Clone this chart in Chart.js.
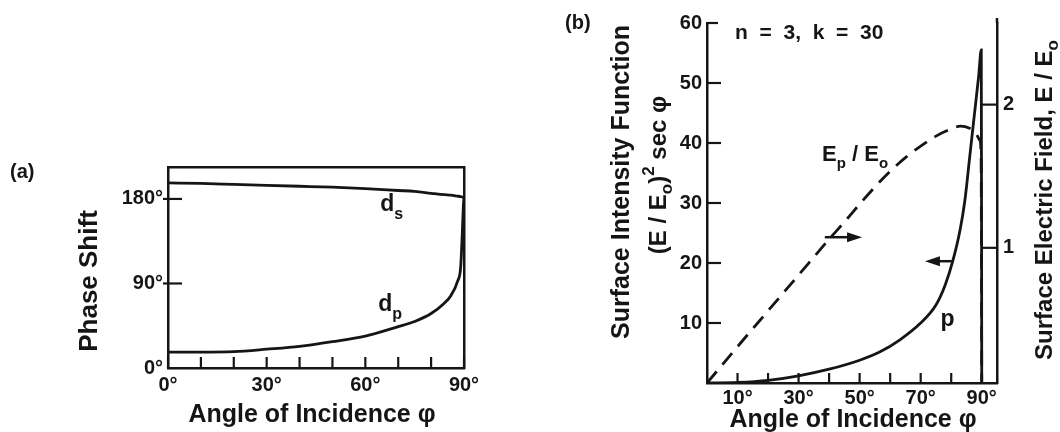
<!DOCTYPE html>
<html>
<head>
<meta charset="utf-8">
<script src="https://cdn.jsdelivr.net/npm/chart.js@4.4.1/dist/chart.umd.min.js"></script>
<style>
html, body { margin: 0; padding: 0; background: #fff; }
#wrap { position: relative; width: 1060px; height: 432px; overflow: hidden; }
canvas { position: absolute; left: 0; top: 0; }
</style>
</head>
<body>
<div id="wrap">
  <canvas id="chartA" width="1060" height="432"></canvas>
  <canvas id="chartB" width="1060" height="432"></canvas>
</div>
<script>
// (a) phase shift against angle of incidence
const phaseAngles = [0, 10, 20, 30, 40, 50, 60, 70, 75, 80, 84, 86, 88, 89, 89.5, 89.8, 90];
const deltaS = [197, 196.5, 195.5, 194.5, 193.5, 192.5, 191, 189, 188, 186, 184.5, 184, 183, 182.5, 182, 182, 182];
const deltaP = [17, 17, 17.5, 20, 23, 28, 34, 44, 49.5, 58, 69, 77, 92, 108, 145, 172, 182];
const phaseTicksX = [0, 10, 20, 30, 40, 50, 60, 70, 80, 90];
const phaseLabelsX = [0, 30, 60, 90];
const phaseTicksY = [0, 90, 180];

// (b) surface intensity (left axis) and surface field (right axis)
const intensityAngles = [0, 10, 20, 30, 40, 50, 56.7, 63.2, 69.8, 75, 78, 80.5, 82.9, 84.5, 86, 87.5, 89, 89.85, 90];
const intensityP = [0, 0.1, 0.45, 1.2, 2.3, 3.8, 5.2, 7.2, 9.9, 13, 16.3, 20.3, 25.5, 30.5, 37.4, 44.3, 51.2, 55.5, 0.3];
const fieldAngles = [0, 10, 20, 30, 40, 45, 50, 55, 60, 65, 70, 75, 80, 83, 86, 88, 89.4, 89.8, 90];
const fieldP = [0.056, 0.31, 0.56, 0.81, 1.06, 1.18, 1.305, 1.425, 1.535, 1.63, 1.71, 1.78, 1.83, 1.85, 1.835, 1.8, 1.75, 1.62, 0.056];
const angleTicksB = [0, 10, 20, 30, 40, 50, 60, 70, 80, 90];
const angleLabelsB = [10, 30, 50, 70, 90];
const intensityTicks = [10, 20, 30, 40, 50, 60];
const fieldTicks = [1, 2];

const INK = "#151515";
const FONT = "'Liberation Sans', Arial, Helvetica, sans-serif";

function toPoints(xs, ys) {
    return xs.map(function (x, i) { return { x: x, y: ys[i] }; });
}

function tickFont(size) {
    return { family: FONT, size: size, weight: "bold" };
}

// draws text made of parts (for sub/superscripts), optionally rotated
function drawRich(ctx, parts, x, y, align, angle) {
    ctx.save();
    ctx.translate(x, y);
    if (angle) ctx.rotate(angle);
    ctx.fillStyle = INK;
    ctx.textBaseline = "middle";
    ctx.textAlign = "left";
    let total = 0;
    parts.forEach(function (p) {
        ctx.font = "bold " + p.size + "px " + FONT;
        p.w = ctx.measureText(p.t).width;
        total += p.w;
    });
    let cx = 0;
    if (align === "center") cx = -total / 2;
    if (align === "right") cx = -total;
    parts.forEach(function (p) {
        ctx.font = "bold " + p.size + "px " + FONT;
        ctx.fillText(p.t, cx, p.dy || 0);
        cx += p.w;
    });
    ctx.restore();
}

function line(ctx, x1, y1, x2, y2, w) {
    ctx.beginPath();
    ctx.moveTo(x1, y1);
    ctx.lineTo(x2, y2);
    ctx.lineWidth = w || 2.5;
    ctx.strokeStyle = INK;
    ctx.stroke();
}

function arrow(ctx, x1, y1, x2, y2) {
    const dir = x2 > x1 ? 1 : -1;
    line(ctx, x1, y1, x2 - dir * 10, y2, 2.5);
    ctx.beginPath();
    ctx.moveTo(x2, y2);
    ctx.lineTo(x2 - dir * 15, y2 - 5);
    ctx.lineTo(x2 - dir * 15, y2 + 5);
    ctx.closePath();
    ctx.fillStyle = INK;
    ctx.fill();
}

const noGrid = { display: false, drawTicks: false };

const plainAxis = {
    ticks: { display: false },
    grid: noGrid,
    border: { display: true, color: INK, width: 2.5 }
};

// ---------- chart (a) ----------
const marksA = {
    id: "marksA",
    afterDraw: function (chart) {
        const ctx = chart.ctx;
        const xs = chart.scales.x;
        const ys = chart.scales.y;
        const area = chart.chartArea;
        phaseTicksX.forEach(function (v) {
            const px = xs.getPixelForValue(v);
            line(ctx, px, area.bottom, px, area.bottom - 11, 2.2);
        });
        phaseTicksY.forEach(function (v) {
            if (v === 0) return;
            const py = ys.getPixelForValue(v);
            line(ctx, area.left - 5, py, area.left + 14, py, 2.2);
        });

        drawRich(ctx, [{ t: "(a)", size: 20 }], 10, 172, "left");
        drawRich(ctx, [{ t: "Phase Shift", size: 26 }], 90, 281, "center", -Math.PI / 2);
        drawRich(ctx, [{ t: "Angle of Incidence \u03c6", size: 25 }], 312, 415, "center");

        drawRich(ctx, [{ t: "d", size: 23 }, { t: "s", size: 16, dy: 10 }],
            xs.getPixelForValue(64.5), ys.getPixelForValue(173.6), "left");
        drawRich(ctx, [{ t: "d", size: 23 }, { t: "p", size: 16, dy: 10 }],
            xs.getPixelForValue(63.9), ys.getPixelForValue(67), "left");
    }
};

new Chart(document.getElementById("chartA"), {
    type: "line",
    data: {
        datasets: [
            { label: "ds", data: toPoints(phaseAngles, deltaS), borderColor: INK, borderWidth: 2.8, pointRadius: 0, cubicInterpolationMode: "monotone", fill: false },
            { label: "dp", data: toPoints(phaseAngles, deltaP), borderColor: INK, borderWidth: 2.8, pointRadius: 0, cubicInterpolationMode: "monotone", fill: false }
        ]
    },
    options: {
        responsive: false,
        animation: false,
        devicePixelRatio: 1,
        layout: { padding: { left: 108, right: 596, top: 167, bottom: 0 } },
        plugins: { legend: { display: false }, tooltip: { enabled: false } },
        scales: {
            x: {
                type: "linear", position: "bottom", min: 0, max: 90,
                afterBuildTicks: function (s) { s.ticks = phaseTicksX.map(function (v) { return { value: v }; }); },
                afterFit: function (s) { s.height = 64; },
                ticks: {
                    autoSkip: false, maxRotation: 0, padding: 5, color: INK, font: tickFont(20),
                    callback: function (v) { return phaseLabelsX.includes(v) ? v + "\u00b0" : ""; }
                },
                grid: noGrid,
                border: { display: true, color: INK, width: 2.5 }
            },
            y: {
                type: "linear", position: "left", min: 0, max: 214,
                afterBuildTicks: function (s) { s.ticks = phaseTicksY.map(function (v) { return { value: v }; }); },
                afterFit: function (s) { s.width = 60; },
                ticks: {
                    padding: 5, color: INK, font: tickFont(20),
                    callback: function (v) { return v + "\u00b0"; }
                },
                grid: noGrid,
                border: { display: true, color: INK, width: 2.5 }
            },
            xTop: Object.assign({ type: "linear", position: "top", min: 0, max: 90, afterFit: function (s) { s.height = 0; } }, plainAxis),
            yRight: Object.assign({ type: "linear", position: "right", min: 0, max: 214, afterFit: function (s) { s.width = 0; } }, plainAxis)
        }
    },
    plugins: [marksA]
});

// ---------- chart (b) ----------
const marksB = {
    id: "marksB",
    afterDraw: function (chart) {
        const ctx = chart.ctx;
        const xs = chart.scales.x;
        const ys = chart.scales.y;
        const yr = chart.scales.y2;
        const area = chart.chartArea;
        angleTicksB.forEach(function (v) {
            if (v === 0) return;
            const px = xs.getPixelForValue(v);
            line(ctx, px, area.bottom, px, area.bottom - 10, 2.2);
        });
        intensityTicks.forEach(function (v) {
            const py = ys.getPixelForValue(v);
            line(ctx, area.left, py, area.left + (v === 60 ? 11 : 14), py, 2.2);
        });
        fieldTicks.forEach(function (v) {
            const py = yr.getPixelForValue(v);
            line(ctx, area.right, py, xs.getPixelForValue(90), py, 2.2);
        });
        line(ctx, area.right, area.top, area.right, area.top - 5, 2.5);

        drawRich(ctx, [{ t: "(b)", size: 20 }], 565, 23, "left");
        drawRich(ctx, [{ t: "Surface Intensity Function", size: 25 }], 622, 182, "center", -Math.PI / 2);
        drawRich(ctx, [
            { t: "(E / E", size: 24 }, { t: "o", size: 17, dy: 8 }, { t: ")", size: 24 },
            { t: "2", size: 17, dy: -10 }, { t: " sec \u03c6", size: 24 }
        ], 659, 175, "center", -Math.PI / 2);
        drawRich(ctx, [
            { t: "Surface Electric Field, E / E", size: 24 }, { t: "o", size: 17, dy: 8 }
        ], 1045, 200, "center", -Math.PI / 2);
        drawRich(ctx, [{ t: "Angle of Incidence \u03c6", size: 25 }], 853, 420, "center");

        drawRich(ctx, [{ t: "n  =  3,  k  =  30", size: 21 }],
            xs.getPixelForValue(9.2), ys.getPixelForValue(58.3), "left");
        drawRich(ctx, [
            { t: "E", size: 22 }, { t: "p", size: 15, dy: 9 }, { t: " / E", size: 22 }, { t: "o", size: 15, dy: 9 }
        ], xs.getPixelForValue(37.7), ys.getPixelForValue(38), "left");
        drawRich(ctx, [{ t: "p", size: 23 }], xs.getPixelForValue(76.5), ys.getPixelForValue(10.6), "left");

        arrow(ctx, xs.getPixelForValue(38.6), ys.getPixelForValue(24.3), xs.getPixelForValue(50.8), ys.getPixelForValue(24.3));
        arrow(ctx, xs.getPixelForValue(80.2), ys.getPixelForValue(20.3), xs.getPixelForValue(71.4), ys.getPixelForValue(20.3));
    }
};

new Chart(document.getElementById("chartB"), {
    type: "line",
    data: {
        datasets: [
            { label: "p", data: toPoints(intensityAngles, intensityP), yAxisID: "y", borderColor: INK, borderWidth: 2.8, pointRadius: 0, cubicInterpolationMode: "monotone", fill: false },
            { label: "Ep/Eo", data: toPoints(fieldAngles, fieldP), yAxisID: "y2", borderColor: INK, borderWidth: 2.8, borderDash: [15, 9], pointRadius: 0, cubicInterpolationMode: "monotone", fill: false }
        ]
    },
    options: {
        responsive: false,
        animation: false,
        devicePixelRatio: 1,
        layout: { padding: { left: 647, right: 23, top: 23, bottom: 0 } },
        plugins: { legend: { display: false }, tooltip: { enabled: false } },
        scales: {
            x: {
                type: "linear", position: "bottom", min: 0, max: 95,
                afterBuildTicks: function (s) { s.ticks = angleTicksB.map(function (v) { return { value: v }; }); },
                afterFit: function (s) { s.height = 49; },
                ticks: {
                    autoSkip: false, maxRotation: 0, padding: 3, color: INK, font: tickFont(20),
                    callback: function (v) { return angleLabelsB.includes(v) ? v + "\u00b0" : ""; }
                },
                grid: noGrid,
                border: { display: true, color: INK, width: 2.5 }
            },
            y: {
                type: "linear", position: "left", min: 0, max: 60,
                afterBuildTicks: function (s) { s.ticks = intensityTicks.map(function (v) { return { value: v }; }); },
                afterFit: function (s) { s.width = 60; },
                ticks: { padding: 5, color: INK, font: tickFont(20) },
                grid: noGrid,
                border: { display: true, color: INK, width: 2.5 }
            },
            y2: {
                type: "linear", position: "right", min: 0.056, max: 2.57,
                afterBuildTicks: function (s) { s.ticks = fieldTicks.map(function (v) { return { value: v }; }); },
                afterFit: function (s) { s.width = 40; },
                ticks: { padding: 6, color: INK, font: tickFont(20) },
                grid: noGrid,
                border: { display: true, color: INK, width: 2.5 }
            }
        }
    },
    plugins: [marksB]
});
</script>
</body>
</html>
